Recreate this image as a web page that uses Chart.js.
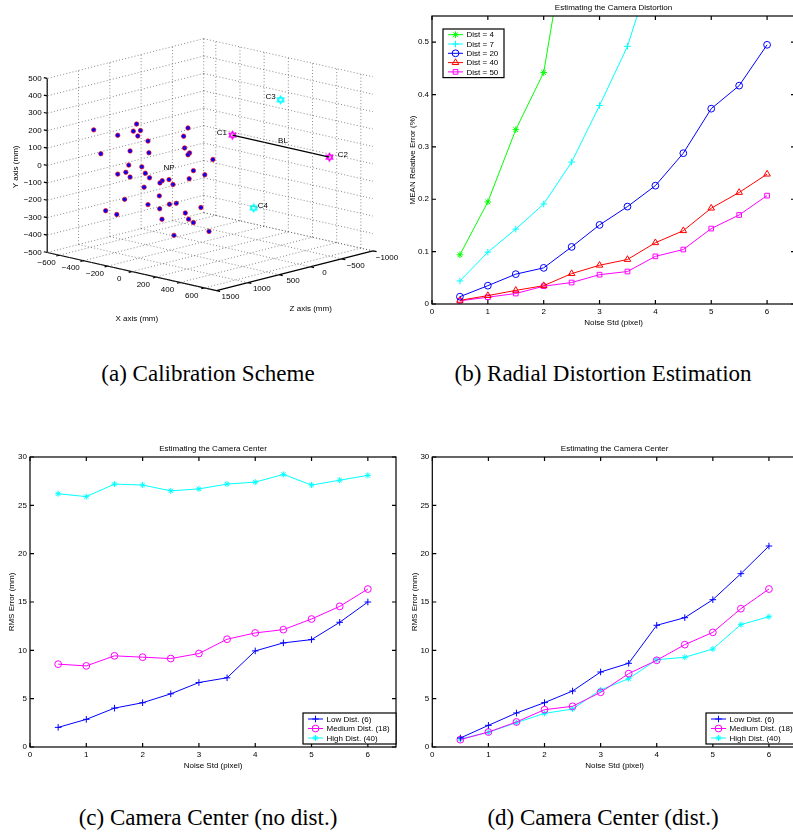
<!DOCTYPE html>
<html><head><meta charset="utf-8">
<script src="https://cdn.jsdelivr.net/npm/chart.js@4.4.1/dist/chart.umd.min.js"></script>
<style>
html,body{margin:0;padding:0;background:#fff;width:793px;height:833px;overflow:hidden;position:relative}
canvas{position:absolute}
.cap{position:absolute;font-family:"Liberation Serif","Times New Roman",serif;font-size:23px;line-height:23px;white-space:nowrap;transform:translateX(-50%);color:#000}
</style></head><body>
<canvas id="pa" width="400" height="340" style="left:0;top:0"></canvas>
<canvas id="pb" width="400" height="340" style="left:400px;top:0"></canvas>
<canvas id="pc" width="401" height="345" style="left:0;top:440px"></canvas>
<canvas id="pd" width="402" height="345" style="left:400px;top:440px"></canvas>
<div class="cap" style="left:208px;top:362px">(a) Calibration Scheme</div>
<div class="cap" style="left:603px;top:362px">(b) Radial Distortion Estimation</div>
<div class="cap" style="left:208px;top:806px">(c) Camera Center (no dist.)</div>
<div class="cap" style="left:603px;top:806px">(d) Camera Center (dist.)</div>
<script>
// ================= DATA =================
const noiseStd = [0.5, 1, 1.5, 2, 2.5, 3, 3.5, 4, 4.5, 5, 5.5, 6];
const xTickVals = [0, 1, 2, 3, 4, 5, 6];
const xTickLabels = ['0', '1', '2', '3', '4', '5', '6'];
const distYTicks = [0, 0.1, 0.2, 0.3, 0.4, 0.5];
const distYTickLabels = ['0', '0.1', '0.2', '0.3', '0.4', '0.5'];
const rmsYTicks = [0, 5, 10, 15, 20, 25, 30];
const rmsYTickLabels = ['0', '5', '10', '15', '20', '25', '30'];

// (b) radial distortion estimation
const distLabels = ['Dist = 4', 'Dist = 7', 'Dist = 20', 'Dist = 40', 'Dist = 50'];
const dist4  = [0.094, 0.195, 0.333, 0.442, 0.76, null, null, null, null, null, null, null];
const dist7  = [0.044, 0.099, 0.143, 0.191, 0.271, 0.379, 0.492, 0.66, null, null, null, null];
const dist20 = [0.014, 0.035, 0.057, 0.069, 0.109, 0.151, 0.186, 0.226, 0.288, 0.373, 0.417, 0.495];
const dist40 = [0.007, 0.016, 0.026, 0.035, 0.058, 0.074, 0.085, 0.117, 0.140, 0.183, 0.213, 0.248];
const dist50 = [0.006, 0.013, 0.020, 0.034, 0.041, 0.056, 0.062, 0.091, 0.104, 0.144, 0.170, 0.207];

// (c) camera center, no distortion
const centerLabels = ['Low Dist. (6)', 'Medium Dist. (18)', 'High Dist. (40)'];
const lowNoDist  = [2.03, 2.86, 4.02, 4.58, 5.50, 6.67, 7.16, 9.94, 10.77, 11.11, 12.9, 15.0];
const medNoDist  = [8.57, 8.39, 9.43, 9.29, 9.15, 9.67, 11.15, 11.8, 12.14, 13.24, 14.55, 16.34];
const highNoDist = [26.2, 25.9, 27.2, 27.1, 26.5, 26.7, 27.2, 27.4, 28.2, 27.1, 27.6, 28.1];

// (d) camera center, with distortion
const lowDist  = [0.93, 2.24, 3.52, 4.59, 5.79, 7.76, 8.66, 12.59, 13.38, 15.24, 17.93, 20.79];
const medDist  = [0.76, 1.55, 2.59, 3.86, 4.21, 5.66, 7.59, 8.97, 10.59, 11.86, 14.31, 16.34];
const highDist = [0.83, 1.52, 2.52, 3.48, 3.93, 5.90, 7.07, 9.03, 9.28, 10.14, 12.66, 13.48];

// (a) calibration scheme (mm)
const calibX = [-471,-116,-143,-84,-272,-106,309,273,-22,281,322,309,-412,-170,-14,515,-181,-73,354,-272,-205,-44,-170,-9,448,319,152,96,77,185,-54,72,-215,-22,156,212,75,416,-372,-280,287,314,354,94,483,193];
const calibY = [213,302,257,270,213,235,346,293,219,227,205,192,85,139,153,197,56,63,108,-10,11,31,-11,10,99,56,25,10,-6,2,-51,-81,-146,-146,-116,-102,-155,-94,-236,-243,-146,-177,-190,-212,-221,-289];
const calibZ = [1200,1200,1200,1200,1200,1200,1200,1200,1200,1200,1200,1200,1200,1200,1200,1200,1200,1200,1200,1200,1200,1200,1200,1200,1200,1200,1200,1200,1200,1200,1200,1200,1200,1200,1200,1200,1200,1200,1200,1200,1200,1200,1200,1200,1200,1200];
const camNames = ['C1', 'C2', 'C3', 'C4'];
const camX = [-462, 340, -64, -287];
const camY = [-17, -18, 248, -408];
const camZ = [-1000, -1000, -1000, -1000];
const lim3X = [-700, 700];
const lim3Y = [-500, 500];
const lim3Z = [-1000, 1500];
const axis3X = [-600, -400, -200, 0, 200, 400, 600];
const axis3XLabels = ['\u2212600', '\u2212400', '\u2212200', '0', '200', '400', '600'];
const axis3Y = [-500, -400, -300, -200, -100, 0, 100, 200, 300, 400, 500];
const axis3YLabels = ['\u2212500', '\u2212400', '\u2212300', '\u2212200', '\u2212100', '0', '100', '200', '300', '400', '500'];
const axis3Z = [-1000, -500, 0, 500, 1000, 1500];
const axis3ZLabels = ['\u22121000', '\u2212500', '0', '500', '1000', '1500'];

// ================= STYLE / HELPERS =================
const FONT = '"Liberation Sans", Arial, Helvetica, sans-serif';
Chart.defaults.font.family = FONT;
Chart.defaults.color = '#000';

function series(label, vals, color, style, radius) {
  return {
    label, data: noiseStd.map((x, i) => ({ x, y: vals[i] })),
    borderColor: color, backgroundColor: color, borderWidth: 1,
    pointStyle: style, pointRadius: radius, pointBorderColor: color,
    pointBackgroundColor: 'rgba(0,0,0,0)', pointBorderWidth: 1,
    spanGaps: false, tension: 0, fill: false
  };
}

const boxPlugin = {
  id: 'mbox',
  afterDraw(chart, args, o) {
    const { ctx, chartArea: a, scales: { x, y } } = chart;
    ctx.save();
    ctx.strokeStyle = '#000';
    ctx.lineWidth = 1.2;
    ctx.strokeRect(a.left, a.top, a.right - a.left, a.bottom - a.top);
    ctx.beginPath();
    x.ticks.forEach(t => {
      const p = x.getPixelForValue(t.value);
      ctx.moveTo(p, a.bottom); ctx.lineTo(p, a.bottom - 4);
      ctx.moveTo(p, a.top); ctx.lineTo(p, a.top + 4);
    });
    y.ticks.forEach(t => {
      const p = y.getPixelForValue(t.value);
      ctx.moveTo(a.left, p); ctx.lineTo(a.left + 4, p);
      ctx.moveTo(a.right, p); ctx.lineTo(a.right - 4, p);
    });
    ctx.stroke();
    // title
    ctx.fillStyle = '#000';
    ctx.font = '8px ' + FONT;
    ctx.textAlign = 'center';
    ctx.textBaseline = 'middle';
    ctx.fillText(o.title, (a.left + a.right) / 2, a.top - 8.5);
    // legend
    const L = o.legend;
    const ds = chart.data.datasets;
    const h = L.first * 2 + L.row * (ds.length - 1);
    ctx.fillStyle = '#fff';
    ctx.fillRect(L.x, L.y, L.w, h);
    ctx.lineWidth = 1.2;
    ctx.strokeStyle = '#000';
    ctx.strokeRect(L.x, L.y, L.w, h);
    ds.forEach((d, i) => {
      const yy = L.y + L.first + i * L.row;
      ctx.strokeStyle = d.borderColor;
      ctx.lineWidth = 1;
      ctx.beginPath(); ctx.moveTo(L.x + 5, yy); ctx.lineTo(L.x + 20, yy); ctx.stroke();
      ctx.fillStyle = 'rgba(0,0,0,0)';
      Chart.helpers.drawPoint(ctx, { pointStyle: d.pointStyle, radius: d.pointRadius, rotation: 0, borderWidth: 1 }, L.x + 12.5, yy);
      ctx.fillStyle = '#000';
      ctx.textAlign = 'left';
      ctx.fillText(d.label, L.x + 23.5, yy + 0.5);
    });
    ctx.restore();
  }
};

function panel2D(id, cfg) {
  const tickFont = { family: FONT, size: 8 };
  return new Chart(document.getElementById(id), {
    type: 'line',
    data: { datasets: cfg.datasets },
    plugins: [boxPlugin],
    options: {
      animation: false, responsive: false, devicePixelRatio: 1,
      layout: { padding: cfg.pad },
      plugins: { legend: { display: false }, tooltip: { enabled: false },
        mbox: { title: cfg.title, legend: cfg.legend } },
      scales: {
        x: {
          type: 'linear', min: 0, max: 6.5,
          afterBuildTicks: s => { s.ticks = xTickVals.map(v => ({ value: v })); },
          afterFit: s => { s.height = 24; },
          grid: { display: false, drawTicks: false }, border: { display: false },
          ticks: { autoSkip: false, maxRotation: 0, padding: 3, color: '#000', font: tickFont,
            callback: (v, i) => xTickLabels[i] },
          title: { display: true, text: 'Noise Std (pixel)', padding: 0, color: '#000', font: tickFont }
        },
        y: {
          type: 'linear', min: 0, max: cfg.yMax,
          afterBuildTicks: s => { s.ticks = cfg.yTicks.map(v => ({ value: v })); },
          afterFit: s => { s.width = cfg.yw; },
          grid: { display: false, drawTicks: false }, border: { display: false },
          ticks: { autoSkip: false, padding: 3, color: '#000', font: tickFont,
            callback: (v, i) => cfg.yLabels[i] },
          title: { display: true, text: cfg.yTitle, padding: 0, color: '#000', font: tickFont }
        }
      }
    }
  });
}

// (b)
panel2D('pb', {
  datasets: [
    series(distLabels[0], dist4, '#00ff00', 'star', 3.3),
    series(distLabels[1], dist7, '#00ffff', 'cross', 3.3),
    series(distLabels[2], dist20, '#0000ff', 'circle', 3.4),
    series(distLabels[3], dist40, '#ff0000', 'triangle', 3.8),
    series(distLabels[4], dist50, '#ff00ff', 'rect', 3.3)
  ],
  pad: { left: 8.2, top: 16, right: 0, bottom: 12 }, yw: 23.8,
  yMax: 0.55, yTicks: distYTicks, yLabels: distYTickLabels,
  yTitle: 'MEAN Relative Error (%)', title: 'Estimating the Camera Distortion',
  legend: { x: 43, y: 29, w: 61, first: 5.7, row: 9.3 }
});
// (c)
panel2D('pc', {
  datasets: [
    series(centerLabels[0], lowNoDist, '#0000ff', 'cross', 3.3),
    series(centerLabels[1], medNoDist, '#ff00ff', 'circle', 3.4),
    series(centerLabels[2], highNoDist, '#00ffff', 'star', 3)
  ],
  pad: { left: 7.2, top: 17, right: 1, bottom: 14 }, yw: 22.8,
  yMax: 30, yTicks: rmsYTicks, yLabels: rmsYTickLabels,
  yTitle: 'RMS Error (mm)', title: 'Estimating the Camera Center',
  legend: { x: 303, y: 273, w: 93, first: 6, row: 9.5 }
});
// (d)
panel2D('pd', {
  datasets: [
    series(centerLabels[0], lowDist, '#0000ff', 'cross', 3.3),
    series(centerLabels[1], medDist, '#ff00ff', 'circle', 3.4),
    series(centerLabels[2], highDist, '#00ffff', 'star', 3)
  ],
  pad: { left: 10.2, top: 17, right: 0, bottom: 14 }, yw: 22.1,
  yMax: 30, yTicks: rmsYTicks, yLabels: rmsYTickLabels,
  yTitle: 'RMS Error (mm)', title: 'Estimating the Camera Center',
  legend: { x: 306, y: 273, w: 93, first: 6, row: 9.5 }
});

// ================= (a) 3D calibration scheme =================
const VIEW = { ax: 0.124, az: -0.0642, bx: 0.0281, bz: 0.0164, by: 0.1793 };
function proj(X, Y, Z) {
  return { x: X * VIEW.ax + Z * VIEW.az, y: Y * VIEW.by - X * VIEW.bx - Z * VIEW.bz };
}
const GAP = { x: NaN, y: NaN };
function segs(list) {
  const out = [];
  list.forEach(([a, b]) => { out.push(proj(...a), proj(...b), GAP); });
  return out;
}
const [x0, x1] = lim3X, [y0, y1] = lim3Y, [z0, z1] = lim3Z;
const gridSegs = [];
axis3Y.forEach(v => { gridSegs.push([[x0, v, z0], [x0, v, z1]]); gridSegs.push([[x0, v, z0], [x1, v, z0]]); });
axis3Z.forEach(v => { gridSegs.push([[x0, y0, v], [x0, y1, v]]); gridSegs.push([[x0, y0, v], [x1, y0, v]]); });
axis3X.forEach(v => { gridSegs.push([[v, y0, z0], [v, y1, z0]]); gridSegs.push([[v, y0, z0], [v, y0, z1]]); });
const axisSegs = [
  [[x0, y0, z1], [x0, y1, z1]],
  [[x0, y0, z1], [x1, y0, z1]],
  [[x1, y0, z0], [x1, y0, z1]]
];
axis3Y.forEach(v => axisSegs.push([[x0, v, z1], [x0 - 28, v, z1]]));
axis3X.forEach(v => axisSegs.push([[v, y0, z1], [v, y0, z1 + 50]]));
axis3Z.forEach(v => axisSegs.push([[x1, y0, v], [x1 + 30, y0, v]]));

function hexagram(color) {
  const c = document.createElement('canvas');
  c.width = 11; c.height = 11;
  const g = c.getContext('2d');
  g.strokeStyle = color; g.lineWidth = 1.2;
  [-Math.PI / 2, Math.PI / 2].forEach(off => {
    g.beginPath();
    for (let k = 0; k < 3; k++) {
      const a = off + k * 2 * Math.PI / 3;
      const px = 5.5 + 3.9 * Math.cos(a), py = 5.5 + 3.9 * Math.sin(a);
      if (k) g.lineTo(px, py); else g.moveTo(px, py);
    }
    g.closePath(); g.stroke();
  });
  return c;
}
const camStyles = [hexagram('#ff00ff'), hexagram('#ff00ff'), hexagram('#00ffff'), hexagram('#00ffff')];

const labels3D = {
  axisTitles: [
    { text: 'Y axis (mm)', at: [x0, 0, z1], dx: -31, dy: 1.4, rot: -Math.PI / 2 },
    { text: 'X axis (mm)', at: [0, y0, z1], dx: 5, dy: 47, rot: 0 },
    { text: 'Z axis (mm)', at: [x1, y0, 250], dx: 16, dy: 38, rot: 0 }
  ],
  camOffsets: [[-10.6, -2.3], [13.3, -2.4], [-10, -2.7], [9.3, -2.3]],
  np: { text: 'NP', at: [152, 90, 1200] },
  bl: { text: 'BL', dx: 2, dy: -5.4 }
};

const lbl3dPlugin = {
  id: 'lbl3d',
  afterDraw(chart) {
    const { ctx } = chart;
    const sx = chart.scales.x, sy = chart.scales.y;
    const px = (X, Y, Z) => { const p = proj(X, Y, Z); return [sx.getPixelForValue(p.x), sy.getPixelForValue(p.y)]; };
    ctx.save();
    ctx.fillStyle = '#000';
    ctx.font = '8px ' + FONT;
    ctx.textBaseline = 'middle';
    ctx.textAlign = 'right';
    axis3Y.forEach((v, i) => { const [x, y] = px(x0, v, z1); ctx.fillText(axis3YLabels[i], x - 5.5, y); });
    ctx.textAlign = 'center';
    axis3X.forEach((v, i) => { const [x, y] = px(v, y0, z1); ctx.fillText(axis3XLabels[i], x - 12.7, y + 7.5); });
    axis3Z.forEach((v, i) => { const [x, y] = px(x1, y0, v); ctx.fillText(axis3ZLabels[i], x + 14, y + 6.5); });
    labels3D.axisTitles.forEach(t => {
      const [x, y] = px(...t.at);
      ctx.save(); ctx.translate(x + t.dx, y + t.dy); ctx.rotate(t.rot); ctx.fillText(t.text, 0, 0); ctx.restore();
    });
    camNames.forEach((n, i) => {
      const [x, y] = px(camX[i], camY[i], camZ[i]);
      ctx.fillText(n, x + labels3D.camOffsets[i][0], y + labels3D.camOffsets[i][1]);
    });
    const [ax_, ay_] = px(camX[0], camY[0], camZ[0]);
    const [bx_, by_] = px(camX[1], camY[1], camZ[1]);
    ctx.fillText(labels3D.bl.text, (ax_ + bx_) / 2 + labels3D.bl.dx, (ay_ + by_) / 2 + labels3D.bl.dy);
    const [nx, ny] = px(...labels3D.np.at);
    ctx.fillText(labels3D.np.text, nx, ny);
    ctx.restore();
  }
};

new Chart(document.getElementById('pa'), {
  type: 'line',
  data: {
    datasets: [
      { data: segs(gridSegs), borderColor: 'rgba(90,90,90,0.9)', borderWidth: 0.8, borderDash: [1, 2.2],
        pointRadius: 0, spanGaps: false, fill: false },
      { data: segs(axisSegs), borderColor: '#000', borderWidth: 1.2, pointRadius: 0, spanGaps: false, fill: false },
      { data: [proj(camX[0], camY[0], camZ[0]), proj(camX[1], camY[1], camZ[1])],
        borderColor: '#000', borderWidth: 1.2, pointRadius: 0, fill: false },
      { data: calibX.map((X, i) => proj(X, calibY[i], calibZ[i])), showLine: false,
        pointRadius: 2.2, pointBackgroundColor: '#0000ff', pointBorderColor: '#ff0000', pointBorderWidth: 0.7 },
      { data: camX.map((X, i) => proj(X, camY[i], camZ[i])), showLine: false,
        pointStyle: camStyles, pointRadius: 4 }
    ]
  },
  plugins: [lbl3dPlugin],
  options: {
    animation: false, responsive: false, devicePixelRatio: 1,
    layout: { padding: 0 },
    plugins: { legend: { display: false }, tooltip: { enabled: false } },
    scales: {
      x: { type: 'linear', display: false, min: -226.4, max: 173.6 },
      y: { type: 'linear', display: false, min: -179.6, max: 160.4 }
    }
  }
});
</script>
</body></html>
